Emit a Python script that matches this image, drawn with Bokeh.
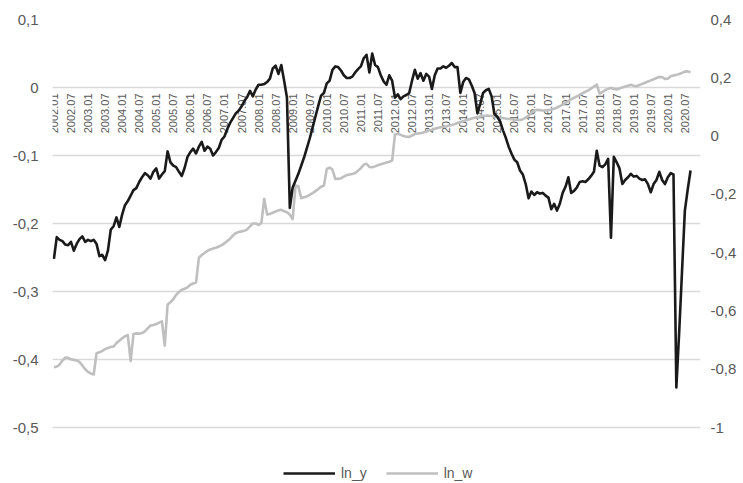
from math import pi

from bokeh.core.properties import value
from bokeh.embed import file_html
from bokeh.models import (ColumnDataSource, CustomJSTickFormatter, FixedTicker,
                          Legend, LegendItem, LinearAxis, Range1d)
from bokeh.plotting import figure
from bokeh.resources import INLINE

# Monthly periods on the category axis (2002.01 .. 2020.12)
periods = [f"{y}.{m:02d}" for y in range(2002, 2021) for m in range(1, 13)]
tick_labels = periods[::6]

# ln_y (left axis), monthly from 2002.01 to 2020.09
ln_y = [
    -0.252, -0.220, -0.224, -0.226, -0.231, -0.232, -0.227, -0.240, -0.230, -0.223, -0.219, -0.227,
    -0.224, -0.226, -0.224, -0.230, -0.248, -0.246, -0.254, -0.240, -0.209, -0.204, -0.191, -0.205,
    -0.187, -0.173, -0.167, -0.159, -0.151, -0.148, -0.139, -0.132, -0.126, -0.129, -0.134, -0.124,
    -0.119, -0.134, -0.128, -0.123, -0.094, -0.110, -0.115, -0.117, -0.124, -0.130, -0.118, -0.102,
    -0.095, -0.090, -0.097, -0.087, -0.080, -0.093, -0.087, -0.090, -0.100, -0.095, -0.089, -0.077,
    -0.072, -0.061, -0.052, -0.045, -0.038, -0.034, -0.028, -0.020, -0.014, -0.005, -0.013, -0.003,
    0.004, 0.004, 0.005, 0.008, 0.013, 0.028, 0.032, 0.020, 0.033, 0.010, -0.015, -0.177,
    -0.147, -0.137, -0.127, -0.115, -0.103, -0.089, -0.075, -0.059, -0.043, -0.027, -0.012, -0.008,
    0.006, 0.010, 0.026, 0.031, 0.030, 0.025, 0.018, 0.014, 0.014, 0.016, 0.022, 0.027,
    0.031, 0.043, 0.048, 0.022, 0.050, 0.033, 0.030, 0.018, 0.009, 0.004, 0.018, 0.010,
    -0.015, -0.010, -0.017, -0.013, -0.011, -0.008, 0.010, 0.026, 0.013, 0.021, 0.010, 0.020,
    0.016, -0.002, 0.018, 0.028, 0.028, 0.031, 0.029, 0.032, 0.036, 0.030, 0.030, -0.008,
    0.008, 0.014, 0.012, 0.003, -0.008, -0.038, -0.024, -0.008, -0.004, -0.002, -0.013, -0.039,
    -0.043, -0.050, -0.063, -0.074, -0.087, -0.097, -0.106, -0.110, -0.122, -0.128, -0.142, -0.163,
    -0.153, -0.158, -0.154, -0.156, -0.155, -0.159, -0.162, -0.179, -0.171, -0.181, -0.171, -0.155,
    -0.146, -0.132, -0.155, -0.152, -0.147, -0.139, -0.138, -0.139, -0.135, -0.130, -0.124, -0.093,
    -0.115, -0.117, -0.113, -0.105, -0.221, -0.102, -0.110, -0.119, -0.142, -0.136, -0.132, -0.127,
    -0.131, -0.130, -0.134, -0.136, -0.135, -0.142, -0.154, -0.142, -0.136, -0.124, -0.136, -0.142,
    -0.132, -0.126, -0.128, -0.441, -0.360, -0.270, -0.181, -0.150, -0.122,
]

# ln_w (right axis), same months
ln_w = [
    -0.793, -0.791, -0.784, -0.770, -0.760, -0.761, -0.766, -0.768, -0.770, -0.776, -0.787, -0.800,
    -0.809, -0.815, -0.818, -0.745, -0.742, -0.737, -0.731, -0.727, -0.724, -0.722, -0.710, -0.702,
    -0.694, -0.687, -0.683, -0.772, -0.679, -0.677, -0.678, -0.676, -0.670, -0.660, -0.650, -0.648,
    -0.645, -0.640, -0.636, -0.719, -0.578, -0.570, -0.560, -0.545, -0.535, -0.527, -0.524, -0.519,
    -0.510, -0.506, -0.502, -0.418, -0.408, -0.401, -0.394, -0.389, -0.386, -0.383, -0.379, -0.374,
    -0.368, -0.360, -0.352, -0.341, -0.333, -0.329, -0.327, -0.325, -0.320, -0.310, -0.300, -0.300,
    -0.305, -0.298, -0.215, -0.269, -0.267, -0.263, -0.259, -0.255, -0.253, -0.258, -0.261, -0.270,
    -0.285, -0.170, -0.172, -0.213, -0.210, -0.207, -0.202, -0.196, -0.189, -0.182, -0.174, -0.170,
    -0.113, -0.108, -0.115, -0.147, -0.147, -0.145, -0.139, -0.134, -0.132, -0.130, -0.127, -0.119,
    -0.110, -0.098, -0.095, -0.106, -0.107, -0.104, -0.100, -0.097, -0.094, -0.091, -0.088, -0.084,
    0.005, 0.008, 0.004, 0.000, -0.002, -0.003, 0.002, 0.007, 0.009, 0.010, 0.012, 0.016,
    0.020, 0.021, 0.025, 0.028, 0.030, 0.031, 0.033, 0.036, 0.038, 0.041, 0.045, 0.048,
    0.051, 0.054, 0.057, 0.060, 0.063, 0.065, 0.067, 0.069, 0.070, 0.070, 0.069, 0.067,
    0.066, 0.064, 0.062, 0.060, 0.059, 0.058, 0.056, 0.055, 0.055, 0.058, 0.063, 0.070,
    0.080, 0.087, 0.090, 0.089, 0.088, 0.088, 0.089, 0.091, 0.094, 0.098, 0.103, 0.108,
    0.114, 0.120, 0.126, 0.131, 0.136, 0.141, 0.147, 0.152, 0.157, 0.163, 0.170, 0.177,
    0.146, 0.151, 0.158, 0.162, 0.165, 0.162, 0.160, 0.163, 0.167, 0.170, 0.173, 0.176,
    0.173, 0.171, 0.175, 0.179, 0.183, 0.187, 0.191, 0.195, 0.199, 0.203, 0.202, 0.196,
    0.197, 0.205, 0.208, 0.210, 0.213, 0.217, 0.221, 0.222, 0.219,
]

left_ticks = [-0.5, -0.4, -0.3, -0.2, -0.1, 0.0, 0.1]
right_ticks = [-1.0, -0.8, -0.6, -0.4, -0.2, 0.0, 0.2, 0.4]

FONT = "Liberation Sans"
TEXT_GREY = "#595959"

# Layout in pixels: the value band spans 408 px, a 56 px strip under it
# holds the legend inside the same frame.
W, H, TOP, LEFT, RIGHT = 743, 483, 19, 52, 43
BAND, STRIP = 408, 56


def extend_low(lo, hi):
    return hi - (hi - lo) * (BAND + STRIP) / BAND


series = ColumnDataSource(dict(
    x=list(range(len(ln_y))), ln_y=ln_y, ln_w=ln_w,
))
label_src = ColumnDataSource(dict(
    x=list(range(0, len(periods), 6)),
    y=[0.0] * len(tick_labels),
    text=tick_labels,
))

p = figure(
    width=W, height=H,
    x_range=Range1d(-0.5, len(periods) - 0.5),
    y_range=Range1d(extend_low(left_ticks[0], left_ticks[-1]), left_ticks[-1]),
    x_axis_location=None, y_axis_location="left",
    output_backend="svg", toolbar_location=None,
    min_border_left=LEFT, min_border_right=RIGHT,
    min_border_top=TOP, min_border_bottom=0,
)
p.outline_line_color = None
p.background_fill_color = "white"
p.extra_y_ranges = {
    "right": Range1d(extend_low(right_ticks[0], right_ticks[-1]), right_ticks[-1])
}

comma = CustomJSTickFormatter(code="""
    const s = (Math.round(tick * 10) / 10).toString();
    return s.replace('.', ',');
""")

yl = p.yaxis[0]
yl.ticker = FixedTicker(ticks=left_ticks)
yl.formatter = comma
yl.axis_line_color = None
yl.major_tick_line_color = None
yl.minor_tick_line_color = None
yl.major_label_standoff = 8
yl.major_label_text_font = FONT
yl.major_label_text_font_size = "15px"
yl.major_label_text_color = TEXT_GREY

yr = LinearAxis(y_range_name="right", ticker=FixedTicker(ticks=right_ticks),
                formatter=comma)
yr.axis_line_color = None
yr.major_tick_line_color = None
yr.minor_tick_line_color = None
yr.major_label_standoff = 4
yr.major_label_text_font = FONT
yr.major_label_text_font_size = "15px"
yr.major_label_text_color = TEXT_GREY
p.add_layout(yr, "right")

p.xgrid.visible = False
p.ygrid.ticker = FixedTicker(ticks=left_ticks)
p.ygrid.grid_line_color = "#d9d9d9"
p.ygrid.grid_line_width = 1.3

# Category labels sit on the zero line of the left axis
p.text(x="x", y="y", text="text", source=label_src, angle=pi / 2,
       text_align="right", text_baseline="middle", y_offset=6,
       text_font=value(FONT), text_font_size="11px", text_color=TEXT_GREY)

r_w = p.line("x", "ln_w", source=series, y_range_name="right",
             line_color="#bfbfbf", line_width=2.6, line_join="round")
r_y = p.line("x", "ln_y", source=series,
             line_color="#1a1a1a", line_width=2.6, line_join="round")

legend = Legend(
    items=[LegendItem(label="ln_y", renderers=[r_y]),
           LegendItem(label="ln_w", renderers=[r_w])],
    orientation="horizontal", location=(231, 2),
    glyph_width=52, glyph_height=16, label_height=16, label_standoff=6,
    spacing=19, padding=0, margin=0,
    border_line_color=None, background_fill_alpha=0,
    label_text_font=FONT, label_text_font_size="14px",
    label_text_color=TEXT_GREY,
)
p.add_layout(legend)

with open("out.html", "w") as f:
    f.write(file_html(p, INLINE))
